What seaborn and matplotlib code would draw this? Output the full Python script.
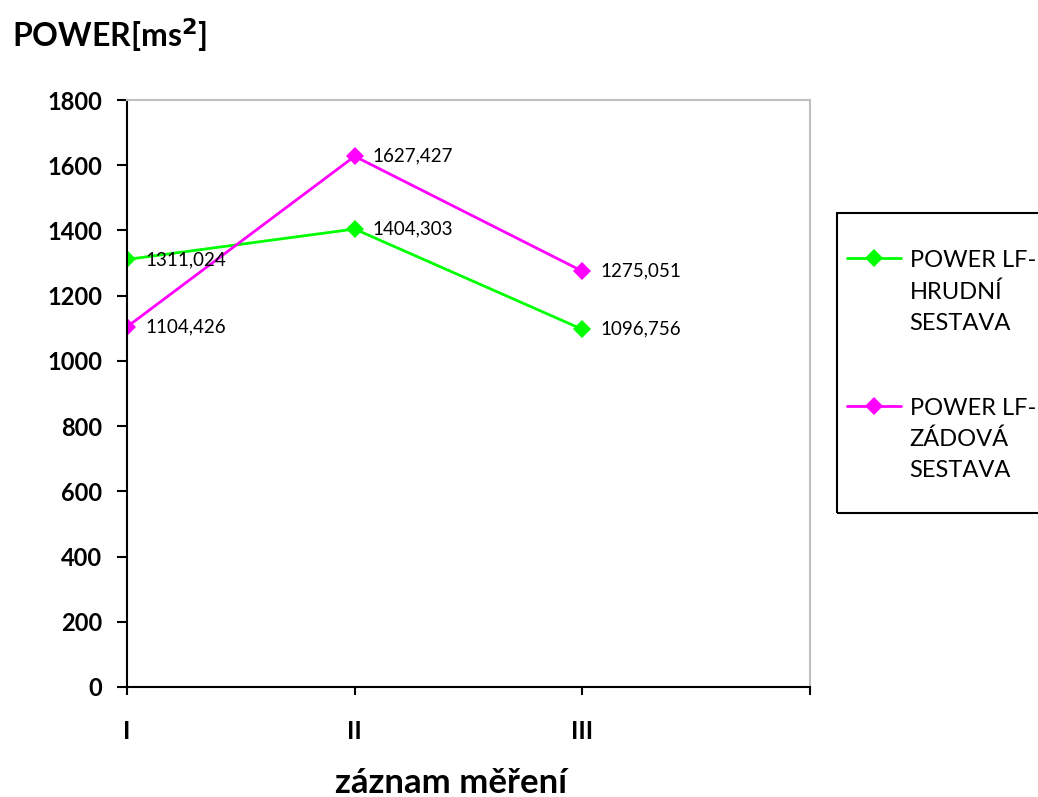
import matplotlib
matplotlib.use("Agg")
import matplotlib.pyplot as plt
from matplotlib.patches import Rectangle
import seaborn as sns
import pandas as pd

categories = ["I", "II", "III"]
series_names = ["POWER LF-\nHRUDNÍ\nSESTAVA", "POWER LF-\nZÁDOVÁ\nSESTAVA"]
hrudni = [1311.024, 1404.303, 1096.756]
zadova = [1104.426, 1627.427, 1275.051]
colors = ["#00FF00", "#FF00FF"]
y_ticks = [0, 200, 400, 600, 800, 1000, 1200, 1400, 1600, 1800]

sns.set_theme(style="white")
plt.rcParams["font.family"] = ["Lato", "DejaVu Sans"]
plt.rcParams["text.color"] = "black"
plt.rcParams["axes.labelcolor"] = "black"
plt.rcParams["xtick.color"] = "black"
plt.rcParams["ytick.color"] = "black"

rows = []
for name, vals in zip(series_names, [hrudni, zadova]):
    for i, (c, v) in enumerate(zip(categories, vals)):
        rows.append({"pos": i, "cat": c, "value": v, "series": name})
df = pd.DataFrame(rows)

W, H = 1038, 797
fig = plt.figure(figsize=(W / 100, H / 100), dpi=100)
ax = fig.add_axes([127 / W, 1 - 687 / H, (810 - 127) / W, (687 - 100) / H])

sns.lineplot(data=df, x="pos", y="value", hue="series", palette=colors,
             marker="D", markersize=9, linewidth=2, markeredgewidth=0,
             ax=ax, legend=True)

for name, vals in zip(series_names, [hrudni, zadova]):
    for i, v in enumerate(vals):
        ax.annotate(f"{v:.3f}".replace(".", ","), (i, v), xytext=(13, 0),
                    textcoords="offset points", va="center", ha="left",
                    fontsize=13.5, color="black")

ax.set_xlim(0, 3)
ax.set_ylim(0, 1800)
ax.set_xticks([0, 1, 2, 3])
ax.set_xticklabels(categories + [""], fontsize=18, fontweight="bold")
ax.set_yticks(y_ticks)
ax.set_yticklabels([str(t) for t in y_ticks], fontsize=17, fontweight="bold")
ax.tick_params(axis="x", direction="out", length=6, width=1.5, pad=18, bottom=True)
ax.tick_params(axis="y", direction="out", length=7, width=1.5, pad=11, left=True)
ax.set_xlabel("záznam měření", fontsize=25, fontweight="bold", va="baseline")
ax.xaxis.set_label_coords((451 - 127) / (810 - 127), -(793 - 687) / (687 - 100))
ax.set_ylabel("")

for s in ["left", "bottom"]:
    ax.spines[s].set_color("black")
    ax.spines[s].set_linewidth(1.5)
for s in ["top", "right"]:
    ax.spines[s].set_color("#BFBFBF")
    ax.spines[s].set_linewidth(1.5)

fig.text(12 / W, 1 - 47 / H, "POWER[ms$^\\mathbf{2}$]", fontsize=23, fontweight="bold",
         va="baseline", ha="left")

# legend frame (extends past the right edge, as in the reference)
fig.patches.append(Rectangle((837 / W, 1 - 513 / H), (1080 - 837) / W, (513 - 213) / H,
                             transform=fig.transFigure, facecolor="none",
                             edgecolor="black", linewidth=1.5, zorder=0))

handles, labels = ax.get_legend_handles_labels()
leg = ax.legend(handles, labels, loc="upper left",
                bbox_to_anchor=(847 / W, 1 - 250 / H), bbox_transform=fig.transFigure,
                fontsize=17, frameon=False,
                handlelength=2.3, handletextpad=0.35, labelspacing=2.7,
                borderpad=0, borderaxespad=0)
for t in leg.get_texts():
    t.set_linespacing(1.59)
for col in leg._legend_handle_box.get_children():
    for hp in col.get_children():
        hp.align = "top"

fig.savefig("out.png", dpi=100)
